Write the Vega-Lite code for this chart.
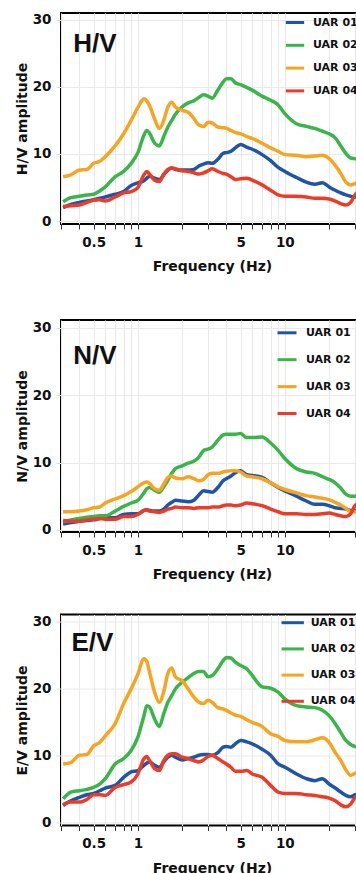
{
  "$schema": "https://vega.github.io/schema/vega-lite/v6.json",
  "background": "white",
  "padding": {"left": 14, "top": 10, "right": 0, "bottom": 0},
  "datasets": {
    "hv": [
      {"f":0.31,"UAR 01":2.0,"UAR 02":2.9,"UAR 03":6.6,"UAR 04":2.2},
      {"f":0.35,"UAR 01":2.5,"UAR 02":3.5,"UAR 03":6.9,"UAR 04":2.3},
      {"f":0.4,"UAR 01":2.8,"UAR 02":3.7,"UAR 03":7.6,"UAR 04":2.4},
      {"f":0.45,"UAR 01":3.0,"UAR 02":3.9,"UAR 03":7.7,"UAR 04":2.8},
      {"f":0.5,"UAR 01":3.2,"UAR 02":4.0,"UAR 03":8.6,"UAR 04":3.1},
      {"f":0.55,"UAR 01":3.4,"UAR 02":4.5,"UAR 03":8.9,"UAR 04":3.2},
      {"f":0.6,"UAR 01":3.6,"UAR 02":5.1,"UAR 03":9.6,"UAR 04":3.0},
      {"f":0.7,"UAR 01":4.0,"UAR 02":6.6,"UAR 03":11.2,"UAR 04":3.6},
      {"f":0.8,"UAR 01":4.4,"UAR 02":7.4,"UAR 03":13.0,"UAR 04":4.2},
      {"f":0.9,"UAR 01":5.3,"UAR 02":8.6,"UAR 03":15.0,"UAR 04":4.4},
      {"f":1.0,"UAR 01":5.7,"UAR 02":10.2,"UAR 03":16.9,"UAR 04":5.0},
      {"f":1.1,"UAR 01":6.0,"UAR 02":12.8,"UAR 03":18.2,"UAR 04":6.9},
      {"f":1.15,"UAR 01":6.4,"UAR 02":13.5,"UAR 03":17.9,"UAR 04":7.4},
      {"f":1.2,"UAR 01":6.7,"UAR 02":13.1,"UAR 03":17.2,"UAR 04":7.0},
      {"f":1.3,"UAR 01":6.4,"UAR 02":11.6,"UAR 03":15.2,"UAR 04":6.1},
      {"f":1.4,"UAR 01":6.2,"UAR 02":11.2,"UAR 03":13.8,"UAR 04":5.9},
      {"f":1.5,"UAR 01":6.9,"UAR 02":12.6,"UAR 03":15.0,"UAR 04":7.0},
      {"f":1.6,"UAR 01":7.6,"UAR 02":14.0,"UAR 03":17.0,"UAR 04":7.7},
      {"f":1.7,"UAR 01":7.9,"UAR 02":15.0,"UAR 03":17.7,"UAR 04":7.9},
      {"f":1.8,"UAR 01":7.7,"UAR 02":15.9,"UAR 03":17.0,"UAR 04":7.8},
      {"f":2.0,"UAR 01":7.6,"UAR 02":17.0,"UAR 03":16.5,"UAR 04":7.5},
      {"f":2.2,"UAR 01":7.6,"UAR 02":17.6,"UAR 03":16.2,"UAR 04":7.4},
      {"f":2.4,"UAR 01":7.7,"UAR 02":17.9,"UAR 03":15.3,"UAR 04":7.2},
      {"f":2.6,"UAR 01":8.2,"UAR 02":18.4,"UAR 03":14.3,"UAR 04":7.0},
      {"f":2.8,"UAR 01":8.5,"UAR 02":18.8,"UAR 03":14.1,"UAR 04":7.2},
      {"f":3.0,"UAR 01":8.7,"UAR 02":18.6,"UAR 03":14.7,"UAR 04":7.5},
      {"f":3.2,"UAR 01":8.6,"UAR 02":18.3,"UAR 03":14.6,"UAR 04":7.8},
      {"f":3.5,"UAR 01":9.2,"UAR 02":19.5,"UAR 03":14.0,"UAR 04":7.4},
      {"f":3.8,"UAR 01":10.1,"UAR 02":20.7,"UAR 03":13.9,"UAR 04":7.1},
      {"f":4.0,"UAR 01":10.2,"UAR 02":21.2,"UAR 03":13.8,"UAR 04":7.0},
      {"f":4.3,"UAR 01":10.4,"UAR 02":21.2,"UAR 03":13.5,"UAR 04":6.6},
      {"f":4.6,"UAR 01":10.9,"UAR 02":20.6,"UAR 03":13.2,"UAR 04":6.2},
      {"f":5.0,"UAR 01":11.4,"UAR 02":20.3,"UAR 03":13.0,"UAR 04":6.3},
      {"f":5.5,"UAR 01":11.0,"UAR 02":19.9,"UAR 03":12.6,"UAR 04":6.4},
      {"f":6.0,"UAR 01":10.7,"UAR 02":19.5,"UAR 03":12.3,"UAR 04":6.1},
      {"f":7.0,"UAR 01":9.9,"UAR 02":18.6,"UAR 03":11.6,"UAR 04":5.4},
      {"f":8.0,"UAR 01":9.0,"UAR 02":18.0,"UAR 03":10.9,"UAR 04":4.6},
      {"f":9.0,"UAR 01":8.0,"UAR 02":17.3,"UAR 03":10.4,"UAR 04":3.9},
      {"f":10,"UAR 01":7.4,"UAR 02":16.0,"UAR 03":9.9,"UAR 04":3.7},
      {"f":12,"UAR 01":6.5,"UAR 02":14.5,"UAR 03":9.8,"UAR 04":3.7},
      {"f":14,"UAR 01":5.8,"UAR 02":14.1,"UAR 03":9.6,"UAR 04":3.6},
      {"f":16,"UAR 01":5.5,"UAR 02":13.8,"UAR 03":9.7,"UAR 04":3.4},
      {"f":18,"UAR 01":5.7,"UAR 02":13.4,"UAR 03":9.8,"UAR 04":3.4},
      {"f":20,"UAR 01":5.1,"UAR 02":13.0,"UAR 03":9.3,"UAR 04":3.3},
      {"f":22,"UAR 01":4.6,"UAR 02":12.4,"UAR 03":8.3,"UAR 04":3.0},
      {"f":24,"UAR 01":4.2,"UAR 02":11.2,"UAR 03":7.1,"UAR 04":2.6},
      {"f":26,"UAR 01":3.9,"UAR 02":10.1,"UAR 03":5.8,"UAR 04":2.4},
      {"f":28,"UAR 01":3.7,"UAR 02":9.4,"UAR 03":5.4,"UAR 04":2.8},
      {"f":30,"UAR 01":3.6,"UAR 02":9.3,"UAR 03":5.6,"UAR 04":3.9},
      {"f":32,"UAR 01":3.6,"UAR 02":9.2,"UAR 03":5.8,"UAR 04":4.5}
    ],
    "nv": [
      {"f":0.31,"UAR 01":0.9,"UAR 02":1.2,"UAR 03":2.7,"UAR 04":1.4},
      {"f":0.35,"UAR 01":1.1,"UAR 02":1.5,"UAR 03":2.7,"UAR 04":1.3},
      {"f":0.4,"UAR 01":1.3,"UAR 02":1.7,"UAR 03":2.8,"UAR 04":1.3},
      {"f":0.45,"UAR 01":1.4,"UAR 02":1.9,"UAR 03":3.0,"UAR 04":1.5},
      {"f":0.5,"UAR 01":1.5,"UAR 02":2.0,"UAR 03":3.3,"UAR 04":1.6},
      {"f":0.55,"UAR 01":1.7,"UAR 02":2.1,"UAR 03":3.4,"UAR 04":1.7},
      {"f":0.6,"UAR 01":1.8,"UAR 02":2.1,"UAR 03":4.0,"UAR 04":1.6},
      {"f":0.7,"UAR 01":1.8,"UAR 02":2.8,"UAR 03":4.6,"UAR 04":1.6},
      {"f":0.8,"UAR 01":2.3,"UAR 02":3.5,"UAR 03":5.1,"UAR 04":2.0},
      {"f":0.9,"UAR 01":2.4,"UAR 02":4.0,"UAR 03":5.7,"UAR 04":2.0},
      {"f":1.0,"UAR 01":2.4,"UAR 02":4.4,"UAR 03":6.4,"UAR 04":2.3},
      {"f":1.1,"UAR 01":2.9,"UAR 02":5.5,"UAR 03":7.0,"UAR 04":2.9},
      {"f":1.15,"UAR 01":3.0,"UAR 02":6.1,"UAR 03":7.1,"UAR 04":3.0},
      {"f":1.2,"UAR 01":2.9,"UAR 02":6.3,"UAR 03":6.9,"UAR 04":2.8},
      {"f":1.3,"UAR 01":2.8,"UAR 02":5.9,"UAR 03":6.1,"UAR 04":2.7},
      {"f":1.4,"UAR 01":2.8,"UAR 02":5.6,"UAR 03":5.9,"UAR 04":2.6},
      {"f":1.5,"UAR 01":3.1,"UAR 02":6.4,"UAR 03":6.8,"UAR 04":2.8},
      {"f":1.6,"UAR 01":3.7,"UAR 02":7.4,"UAR 03":7.8,"UAR 04":3.1},
      {"f":1.7,"UAR 01":4.1,"UAR 02":8.4,"UAR 03":8.0,"UAR 04":3.2},
      {"f":1.8,"UAR 01":4.4,"UAR 02":9.1,"UAR 03":7.7,"UAR 04":3.4},
      {"f":2.0,"UAR 01":4.3,"UAR 02":9.5,"UAR 03":7.6,"UAR 04":3.3},
      {"f":2.2,"UAR 01":4.2,"UAR 02":9.9,"UAR 03":7.9,"UAR 04":3.3},
      {"f":2.4,"UAR 01":4.4,"UAR 02":10.2,"UAR 03":7.6,"UAR 04":3.2},
      {"f":2.6,"UAR 01":5.2,"UAR 02":10.8,"UAR 03":7.3,"UAR 04":3.3},
      {"f":2.8,"UAR 01":5.8,"UAR 02":11.8,"UAR 03":7.5,"UAR 04":3.3},
      {"f":3.0,"UAR 01":5.7,"UAR 02":12.0,"UAR 03":8.2,"UAR 04":3.3},
      {"f":3.2,"UAR 01":5.6,"UAR 02":12.3,"UAR 03":8.4,"UAR 04":3.4},
      {"f":3.5,"UAR 01":6.3,"UAR 02":13.3,"UAR 03":8.4,"UAR 04":3.4},
      {"f":3.8,"UAR 01":7.3,"UAR 02":14.1,"UAR 03":8.6,"UAR 04":3.6},
      {"f":4.0,"UAR 01":7.6,"UAR 02":14.2,"UAR 03":8.7,"UAR 04":3.7},
      {"f":4.3,"UAR 01":8.0,"UAR 02":14.2,"UAR 03":8.8,"UAR 04":3.7},
      {"f":4.6,"UAR 01":8.5,"UAR 02":14.2,"UAR 03":8.8,"UAR 04":3.6},
      {"f":5.0,"UAR 01":8.8,"UAR 02":14.3,"UAR 03":8.6,"UAR 04":3.7},
      {"f":5.5,"UAR 01":8.2,"UAR 02":13.7,"UAR 03":8.0,"UAR 04":4.0},
      {"f":6.0,"UAR 01":8.1,"UAR 02":13.7,"UAR 03":7.9,"UAR 04":3.9},
      {"f":7.0,"UAR 01":7.8,"UAR 02":13.8,"UAR 03":7.6,"UAR 04":3.6},
      {"f":8.0,"UAR 01":7.0,"UAR 02":12.9,"UAR 03":7.0,"UAR 04":3.1},
      {"f":9.0,"UAR 01":6.3,"UAR 02":11.8,"UAR 03":6.4,"UAR 04":2.7},
      {"f":10,"UAR 01":5.8,"UAR 02":10.6,"UAR 03":6.0,"UAR 04":2.4},
      {"f":12,"UAR 01":5.0,"UAR 02":9.1,"UAR 03":5.5,"UAR 04":2.4},
      {"f":14,"UAR 01":4.3,"UAR 02":8.6,"UAR 03":5.1,"UAR 04":2.3},
      {"f":16,"UAR 01":3.8,"UAR 02":8.4,"UAR 03":4.9,"UAR 04":2.3},
      {"f":18,"UAR 01":3.8,"UAR 02":7.9,"UAR 03":4.7,"UAR 04":2.4},
      {"f":20,"UAR 01":3.6,"UAR 02":7.5,"UAR 03":4.5,"UAR 04":2.5},
      {"f":22,"UAR 01":3.3,"UAR 02":7.0,"UAR 03":4.1,"UAR 04":2.3},
      {"f":24,"UAR 01":3.2,"UAR 02":6.2,"UAR 03":3.7,"UAR 04":2.1},
      {"f":26,"UAR 01":3.1,"UAR 02":5.3,"UAR 03":3.2,"UAR 04":2.0},
      {"f":28,"UAR 01":2.9,"UAR 02":5.0,"UAR 03":2.7,"UAR 04":2.4},
      {"f":30,"UAR 01":2.9,"UAR 02":5.0,"UAR 03":2.7,"UAR 04":3.6},
      {"f":32,"UAR 01":2.9,"UAR 02":5.0,"UAR 03":2.7,"UAR 04":4.0}
    ],
    "ev": [
      {"f":0.31,"UAR 01":2.5,"UAR 02":3.5,"UAR 03":8.7,"UAR 04":2.6},
      {"f":0.35,"UAR 01":3.2,"UAR 02":4.5,"UAR 03":8.9,"UAR 04":3.0},
      {"f":0.4,"UAR 01":3.7,"UAR 02":4.7,"UAR 03":10.0,"UAR 04":3.0},
      {"f":0.45,"UAR 01":4.1,"UAR 02":4.9,"UAR 03":10.1,"UAR 04":3.4},
      {"f":0.5,"UAR 01":4.3,"UAR 02":5.2,"UAR 03":11.4,"UAR 04":4.1},
      {"f":0.55,"UAR 01":4.7,"UAR 02":5.7,"UAR 03":11.9,"UAR 04":4.1},
      {"f":0.6,"UAR 01":5.1,"UAR 02":6.5,"UAR 03":12.9,"UAR 04":4.0},
      {"f":0.7,"UAR 01":5.5,"UAR 02":8.7,"UAR 03":14.7,"UAR 04":5.2},
      {"f":0.8,"UAR 01":6.7,"UAR 02":9.5,"UAR 03":17.7,"UAR 04":5.6},
      {"f":0.9,"UAR 01":7.5,"UAR 02":10.7,"UAR 03":19.9,"UAR 04":6.0},
      {"f":1.0,"UAR 01":7.7,"UAR 02":12.7,"UAR 03":22.1,"UAR 04":7.2},
      {"f":1.1,"UAR 01":8.5,"UAR 02":15.9,"UAR 03":24.4,"UAR 04":9.5},
      {"f":1.15,"UAR 01":8.8,"UAR 02":17.4,"UAR 03":24.0,"UAR 04":9.8},
      {"f":1.2,"UAR 01":9.0,"UAR 02":17.2,"UAR 03":22.4,"UAR 04":9.2},
      {"f":1.3,"UAR 01":8.5,"UAR 02":15.4,"UAR 03":19.4,"UAR 04":8.0},
      {"f":1.4,"UAR 01":8.2,"UAR 02":14.3,"UAR 03":17.9,"UAR 04":7.7},
      {"f":1.5,"UAR 01":9.0,"UAR 02":16.2,"UAR 03":19.5,"UAR 04":9.2},
      {"f":1.6,"UAR 01":9.7,"UAR 02":17.9,"UAR 03":22.2,"UAR 04":10.0},
      {"f":1.7,"UAR 01":10.0,"UAR 02":18.9,"UAR 03":23.0,"UAR 04":10.2},
      {"f":1.8,"UAR 01":9.7,"UAR 02":19.9,"UAR 03":21.7,"UAR 04":10.2},
      {"f":2.0,"UAR 01":9.3,"UAR 02":20.9,"UAR 03":21.1,"UAR 04":9.7},
      {"f":2.2,"UAR 01":9.5,"UAR 02":21.6,"UAR 03":19.9,"UAR 04":9.5},
      {"f":2.4,"UAR 01":9.7,"UAR 02":22.2,"UAR 03":18.7,"UAR 04":9.2},
      {"f":2.6,"UAR 01":10.0,"UAR 02":22.5,"UAR 03":17.9,"UAR 04":9.0},
      {"f":2.8,"UAR 01":10.1,"UAR 02":22.5,"UAR 03":17.7,"UAR 04":9.3},
      {"f":3.0,"UAR 01":10.1,"UAR 02":21.7,"UAR 03":18.2,"UAR 04":9.8},
      {"f":3.2,"UAR 01":10.0,"UAR 02":21.9,"UAR 03":17.9,"UAR 04":10.0},
      {"f":3.5,"UAR 01":10.4,"UAR 02":22.9,"UAR 03":17.1,"UAR 04":9.5},
      {"f":3.8,"UAR 01":11.2,"UAR 02":24.1,"UAR 03":16.9,"UAR 04":9.0},
      {"f":4.0,"UAR 01":11.3,"UAR 02":24.6,"UAR 03":16.7,"UAR 04":8.7},
      {"f":4.3,"UAR 01":11.2,"UAR 02":24.5,"UAR 03":16.3,"UAR 04":8.2},
      {"f":4.6,"UAR 01":11.7,"UAR 02":23.9,"UAR 03":16.0,"UAR 04":7.6},
      {"f":5.0,"UAR 01":12.2,"UAR 02":23.4,"UAR 03":15.8,"UAR 04":7.6},
      {"f":5.5,"UAR 01":12.0,"UAR 02":22.9,"UAR 03":15.3,"UAR 04":7.7},
      {"f":6.0,"UAR 01":11.7,"UAR 02":21.9,"UAR 03":14.9,"UAR 04":7.2},
      {"f":7.0,"UAR 01":10.9,"UAR 02":20.2,"UAR 03":14.3,"UAR 04":6.7},
      {"f":8.0,"UAR 01":10.0,"UAR 02":20.0,"UAR 03":13.2,"UAR 04":5.5},
      {"f":9.0,"UAR 01":8.7,"UAR 02":19.4,"UAR 03":12.8,"UAR 04":4.5},
      {"f":10,"UAR 01":8.2,"UAR 02":18.4,"UAR 03":12.2,"UAR 04":4.3},
      {"f":12,"UAR 01":7.2,"UAR 02":17.4,"UAR 03":12.0,"UAR 04":4.3},
      {"f":14,"UAR 01":6.5,"UAR 02":17.2,"UAR 03":12.0,"UAR 04":4.1},
      {"f":16,"UAR 01":6.2,"UAR 02":17.1,"UAR 03":12.3,"UAR 04":4.0},
      {"f":18,"UAR 01":6.5,"UAR 02":16.7,"UAR 03":12.6,"UAR 04":3.8},
      {"f":20,"UAR 01":5.7,"UAR 02":15.9,"UAR 03":11.9,"UAR 04":3.6},
      {"f":22,"UAR 01":5.1,"UAR 02":14.7,"UAR 03":10.4,"UAR 04":3.2},
      {"f":24,"UAR 01":4.5,"UAR 02":13.4,"UAR 03":9.2,"UAR 04":2.6},
      {"f":26,"UAR 01":4.0,"UAR 02":12.2,"UAR 03":7.8,"UAR 04":2.3},
      {"f":28,"UAR 01":3.8,"UAR 02":11.6,"UAR 03":7.0,"UAR 04":2.7},
      {"f":30,"UAR 01":4.1,"UAR 02":11.3,"UAR 03":7.3,"UAR 04":3.7},
      {"f":32,"UAR 01":4.2,"UAR 02":11.2,"UAR 03":7.5,"UAR 04":4.0}
    ]
  },
  "config": {
    "font": "DejaVu Sans",
    "view": {"stroke": "#000000", "strokeWidth": 2},
    "axis": {"grid": true, "gridColor": "#e9e9e9", "gridWidth": 1, "domain": false, "labelFont": "DejaVu Sans", "labelFontSize": 13.5, "labelFontWeight": "bold", "labelColor": "#111111", "titleFont": "DejaVu Sans", "titleFontSize": 14, "titleFontWeight": "bold", "titleColor": "#111111", "labelOverlap": false, "labelFlush": false},
    "axisX": {"tickColor": "#333333", "tickSize": 5, "labelPadding": 6, "titlePadding": 11},
    "axisY": {"tickColor": "#dddddd", "tickSize": 5, "labelPadding": 5, "titlePadding": 3},
    "legend": {"labelFont": "DejaVu Sans", "labelFontSize": 11, "labelFontWeight": "bold", "labelColor": "#111111", "symbolType": "stroke", "symbolStrokeWidth": 3, "padding": 0}
  },
  "resolve": {"scale": {"color": "independent"}, "legend": {"color": "independent"}},
  "spacing": 25.5,
  "vconcat": [
    {
      "resolve": {"scale": {"color": "independent"}, "legend": {"color": "independent"}},
      "spacing": 44,
      "vconcat": [
        {
          "width": 302, "height": 211,
          "layer": [
            {
              "data": {"name": "hv"},
              "transform": [{"fold": ["UAR 01", "UAR 02", "UAR 03", "UAR 04"], "as": ["series", "amp"]}],
              "mark": {"type": "line", "strokeWidth": 3.5, "interpolate": "monotone", "clip": true},
              "encoding": {
                "x": {"field": "f", "type": "quantitative", "scale": {"type": "log", "domain": [0.3, 34], "nice": false},
                      "axis": {"title": "Frequency (Hz)", "values": [0.3,0.4,0.5,0.6,0.7,0.8,0.9,1,2,3,4,5,6,7,8,9,10,20,30], "labelExpr": "(datum.value==0.5||datum.value==1||datum.value==5||datum.value==10)?(''+datum.value):''"}},
                "y": {"field": "amp", "type": "quantitative", "scale": {"domain": [-0.42, 30.97], "nice": false, "zero": false},
                      "axis": {"title": "H/V amplitude", "values": [0,5,10,15,20,25,30]}},
                "color": {"field": "series", "type": "nominal",
                          "scale": {"domain": ["UAR 01", "UAR 02", "UAR 03", "UAR 04"], "range": ["#1f55a9", "#3ab54a", "#f7a521", "#ef3b26"]},
                          "legend": {"title": null, "orient": "none", "legendX": 223, "legendY": -1.5, "rowPadding": 5.8, "symbolSize": 335, "labelOffset": 7}}
              }
            },
            {
              "data": {"values": [{"label": "H/V"}]},
              "mark": {"type": "text", "font": "Liberation Sans", "fontSize": 26, "fontWeight": "bold", "align": "left", "baseline": "alphabetic", "color": "#111111"},
              "encoding": {"x": {"datum": 0.364}, "y": {"datum": 25.2}, "text": {"field": "label"}}
            }
          ]
        },
        {
          "width": 302, "height": 212,
          "layer": [
            {
              "data": {"name": "nv"},
              "transform": [{"fold": ["UAR 01", "UAR 02", "UAR 03", "UAR 04"], "as": ["series", "amp"]}],
              "mark": {"type": "line", "strokeWidth": 3.5, "interpolate": "monotone", "clip": true},
              "encoding": {
                "x": {"field": "f", "type": "quantitative", "scale": {"type": "log", "domain": [0.3, 34], "nice": false},
                      "axis": {"title": "Frequency (Hz)", "values": [0.3,0.4,0.5,0.6,0.7,0.8,0.9,1,2,3,4,5,6,7,8,9,10,20,30], "labelExpr": "(datum.value==0.5||datum.value==1||datum.value==5||datum.value==10)?(''+datum.value):''"}},
                "y": {"field": "amp", "type": "quantitative", "scale": {"domain": [-0.3, 31.14], "nice": false, "zero": false},
                      "axis": {"title": "N/V amplitude", "values": [0,5,10,15,20,25,30]}},
                "color": {"field": "series", "type": "nominal",
                          "scale": {"domain": ["UAR 01", "UAR 02", "UAR 03", "UAR 04"], "range": ["#1f55a9", "#3ab54a", "#f7a521", "#ef3b26"]},
                          "legend": {"title": null, "orient": "none", "legendX": 215, "legendY": 1.8, "rowPadding": 9.9, "symbolSize": 361, "labelOffset": 8}}
              }
            },
            {
              "data": {"values": [{"label": "N/V"}]},
              "mark": {"type": "text", "font": "Liberation Sans", "fontSize": 26, "fontWeight": "bold", "align": "left", "baseline": "alphabetic", "color": "#111111"},
              "encoding": {"x": {"datum": 0.364}, "y": {"datum": 24.66}, "text": {"field": "label"}}
            }
          ]
        }
      ]
    },
    {
      "width": 302, "height": 211,
      "layer": [
        {
          "data": {"name": "ev"},
          "transform": [{"fold": ["UAR 01", "UAR 02", "UAR 03", "UAR 04"], "as": ["series", "amp"]}],
          "mark": {"type": "line", "strokeWidth": 3.5, "interpolate": "monotone", "clip": true},
          "encoding": {
            "x": {"field": "f", "type": "quantitative", "scale": {"type": "log", "domain": [0.3, 34], "nice": false},
                  "axis": {"title": "Frequency (Hz)", "values": [0.3,0.4,0.5,0.6,0.7,0.8,0.9,1,2,3,4,5,6,7,8,9,10,20,30], "labelExpr": "(datum.value==0.5||datum.value==1||datum.value==5||datum.value==10)?(''+datum.value):''"}},
            "y": {"field": "amp", "type": "quantitative", "scale": {"domain": [-0.49, 31.0], "nice": false, "zero": false},
                  "axis": {"title": "E/V amplitude", "values": [0,5,10,15,20,25,30]}},
            "color": {"field": "series", "type": "nominal",
                      "scale": {"domain": ["UAR 01", "UAR 02", "UAR 03", "UAR 04"], "range": ["#1f55a9", "#3ab54a", "#f7a521", "#ef3b26"]},
                      "legend": {"title": null, "orient": "none", "legendX": 218.7, "legendY": -4.8, "rowPadding": 7.2, "symbolSize": 500, "labelOffset": 5}}
          }
        },
        {
          "data": {"values": [{"label": "E/V"}]},
          "mark": {"type": "text", "font": "Liberation Sans", "fontSize": 26, "fontWeight": "bold", "align": "left", "baseline": "alphabetic", "color": "#111111"},
          "encoding": {"x": {"datum": 0.353}, "y": {"datum": 25.6}, "text": {"field": "label"}}
        }
      ]
    }
  ]
}
